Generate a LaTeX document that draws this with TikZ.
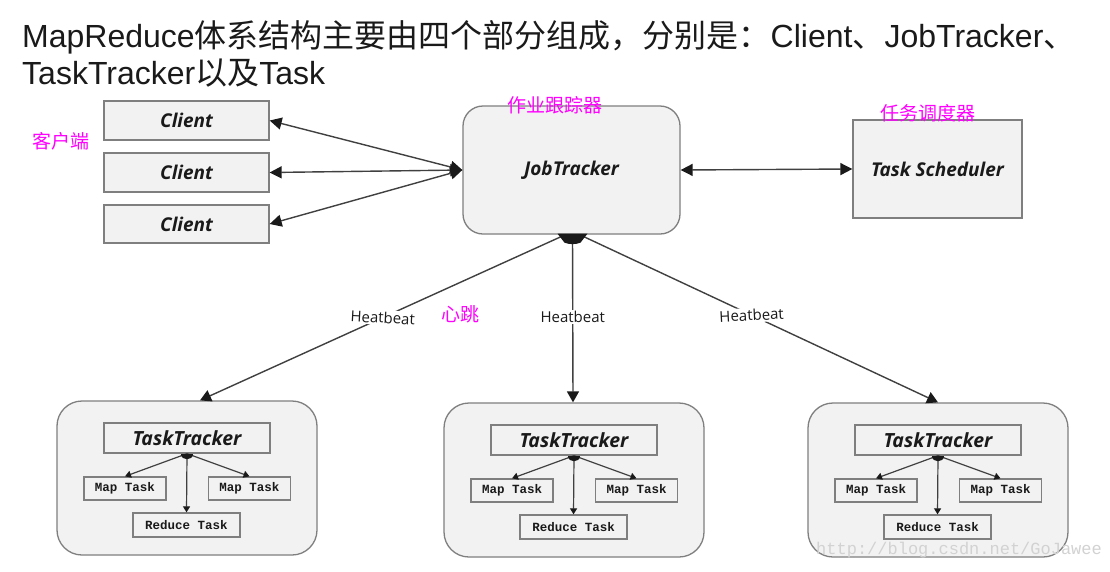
\documentclass[tikz,border=0pt]{standalone}
\usepackage{fontspec}
\setmainfont{Liberation Sans}
\newfontfamily\cjk{Noto Sans CJK SC}
\newfontfamily\boxfont{Open Sans}
\newfontfamily\monofont{Liberation Mono}
\usetikzlibrary{arrows.meta}
\definecolor{boxfill}{HTML}{F2F2F2}
\definecolor{boxgray}{HTML}{7F7F7F}
\definecolor{linegray}{HTML}{404040}
\definecolor{tipcol}{HTML}{1A1A1A}
\definecolor{titlecol}{HTML}{1A1A1A}
\definecolor{magentalbl}{HTML}{FF00FF}
\tikzset{
  box/.style={draw=boxgray, fill=boxfill, line width=1.3pt, inner sep=0pt, text=titlecol},
  bigtext/.style={font=\boxfont\bfseries\itshape\fontsize{19}{19}\selectfont},
  ttext/.style={font=\boxfont\bfseries\itshape\fontsize{19.5}{19.5}\selectfont},
  smalltext/.style={font=\monofont\bfseries\fontsize{12.5}{12.5}\selectfont},
  mag/.style={text=magentalbl, font=\cjk\fontsize{19}{19}\selectfont, inner sep=0pt},
  conn/.style={draw=linegray, line width=1.4pt},
  bigtips/.style={{Triangle[length=12pt,width=12pt,color=tipcol]}-{Triangle[length=12pt,width=12pt,color=tipcol]}},
  hbtips/.style={-{Triangle[length=11pt,width=12pt,color=tipcol]}},
  smalltips/.style={-{Triangle[length=6pt,width=7pt,color=tipcol]}},
  hblabel/.style={fill=white, inner sep=1.5pt, text=titlecol, font=\boxfont\fontsize{15}{15}\selectfont},
  title/.style={anchor=base west, inner sep=0pt, text=titlecol, font=\fontsize{32}{32}\selectfont}
}
\begin{document}
\begin{tikzpicture}[x=1pt,y=-1pt]
\useasboundingbox (0,0) rectangle (1110,571);
\fill[white] (0,0) rectangle (1110,571);

% title
\node[title] (t1) at (22,47) {MapReduce{\cjk 体系结构主要由四个部分组成，分别是：}Client{\cjk 、}JobTracker{\cjk 、}};
\node[title] (t2) at (22,84) {TaskTracker{\cjk 以及}Task};

% clients
\node[box, bigtext, minimum width=165pt, minimum height=39pt] (c1) at (186.5,120.5) {Client};
\node[box, bigtext, minimum width=165pt, minimum height=39pt] (c2) at (186.5,172.5) {Client};
\node[box, bigtext, minimum width=165pt, minimum height=38pt] (c3) at (186.5,224) {Client};

% job tracker and scheduler
\node[box, bigtext, rounded corners=20pt, minimum width=217pt, minimum height=128pt] (jt) at (571.5,170) {JobTracker};
\node[box, bigtext, minimum width=169pt, minimum height=98pt] (ts) at (937.5,169) {Task Scheduler};

% magenta labels
\node[mag] (l1) at (61,141) {客户端};
\node[mag] (l2) at (555,105) {作业跟踪器};
\node[mag] (l3) at (928,113) {任务调度器};
\node[mag] (l4) at (460,314) {心跳};

% task tracker groups
\foreach \g/\dx/\dy in {L/0/0, M/387/2, R/751/2} {
  \begin{scope}[shift={(\dx,\dy)}]
    \node[box, rounded corners=25pt, minimum width=260pt, minimum height=154pt] (g\g) at (187,478) {};
    \node[box, ttext, minimum width=166pt, minimum height=30pt] (tt\g) at (187,438) {TaskTracker};
    \node[box, smalltext, minimum width=82pt, minimum height=23pt] (ma\g) at (125,488.5) {Map Task};
    \node[box, smalltext, minimum width=82pt, minimum height=23pt] (mb\g) at (249.5,488.5) {Map Task};
    \node[box, smalltext, minimum width=107pt, minimum height=24pt] (rd\g) at (186.5,525) {Reduce Task};
    \draw[conn, line width=1.2pt, smalltips] (tt\g.south) -- (ma\g.north);
    \draw[conn, line width=1.2pt, smalltips] (tt\g.south) -- (mb\g.north);
    \draw[conn, line width=1.2pt, smalltips] (tt\g.south) -- (rd\g.north);
    \fill[tipcol] ([xshift=-6pt]tt\g.south) .. controls ([xshift=-6pt,yshift=-7pt]tt\g.south) and ([xshift=6pt,yshift=-7pt]tt\g.south) .. ([xshift=6pt]tt\g.south) -- cycle;
  \end{scope}
}

% client connectors
\draw[conn, bigtips] (jt.west) -- (c1.east);
\draw[conn, bigtips] (jt.west) -- (c2.east);
\draw[conn, bigtips] (jt.west) -- (c3.east);
\draw[conn, bigtips] (jt.east) -- (ts.west);

% heartbeat connectors
\draw[conn, hbtips] ([xshift=-6pt]jt.south) -- node[hblabel, pos=0.5, rotate=-3] (hb1) {Heatbeat} ([xshift=13pt]gL.north);
\draw[conn, hbtips] ([xshift=1pt]jt.south) -- node[hblabel, pos=0.49] (hb2) {Heatbeat} ([xshift=-1pt]gM.north);
\draw[conn, hbtips] ([xshift=8pt]jt.south) -- node[hblabel, pos=0.48, rotate=3] (hb3) {Heatbeat} (gR.north);
\fill[tipcol] ([xshift=-14pt,yshift=1pt]jt.south) -- ([xshift=16pt,yshift=1pt]jt.south) -- ([xshift=9pt,yshift=-8pt]jt.south) .. controls ([xshift=4pt,yshift=-10pt]jt.south) and ([xshift=-2pt,yshift=-10pt]jt.south) .. ([xshift=-7pt,yshift=-8pt]jt.south) -- cycle;

% watermark
\node[anchor=west, inner sep=0pt, text=gray!35, font=\monofont\fontsize{17}{17}\selectfont] (wm) at (816,550) {http://blog.csdn.net/GoJawee};
\end{tikzpicture}
\end{document}
